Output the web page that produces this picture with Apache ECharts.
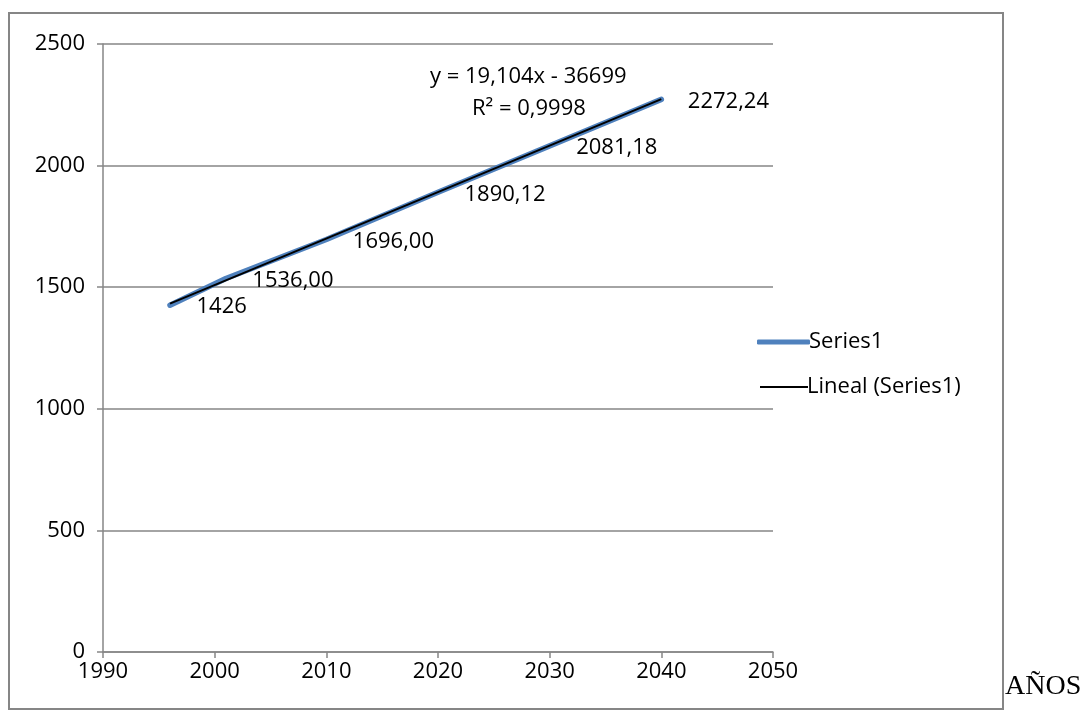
<!DOCTYPE html>
<html>
<head>
<meta charset="utf-8">
<script src="https://cdn.jsdelivr.net/npm/echarts@6/dist/echarts.min.js"></script>
<style>
  html, body { margin: 0; padding: 0; background: #fff; }
  #chart { width: 1087px; height: 713px; }
</style>
</head>
<body>
<div id="chart"></div>
<script>
// Years and population values
const years = [1996, 2001, 2010, 2020, 2030, 2040];
const values = [1426, 1536, 1696, 1890.12, 2081.18, 2272.24];
const valueLabels = ['1426', '1536,00', '1696,00', '1890,12', '2081,18', '2272,24'];

// Linear trend coefficients (y = slope * x + intercept)
const trendSlope = 19.104;
const trendIntercept = -36699;
const trendText = ['y = 19,104x - 36699', 'R² = 0,9998'];

// Axis ranges
const xTicks = [1990, 2000, 2010, 2020, 2030, 2040, 2050];
const yTicks = [0, 500, 1000, 1500, 2000, 2500];

const FONT = '"Open Sans", Lato, sans-serif';
const FS = 22;
const GRAY = '#868686';
const BLUE = '#4f81bd';

const seriesData = years.map((y, i) => [y, values[i]]);
const trendX = [years[0], years[years.length - 1]];
const trendData = trendX.map(x => [x, trendSlope * x + trendIntercept]);

const legendText = { color: '#000', fontFamily: FONT, fontSize: FS, padding: [0, 0, 0, -6] };

const chart = echarts.init(document.getElementById('chart'));
chart.setOption({
  animation: false,
  backgroundColor: '#fff',
  grid: { left: 103, top: 44, width: 670, height: 608, containLabel: false },
  xAxis: {
    type: 'value',
    min: xTicks[0],
    max: xTicks[xTicks.length - 1],
    interval: 10,
    axisLine: { show: true, lineStyle: { color: GRAY, width: 1.5 } },
    axisTick: { show: true, length: 6, lineStyle: { color: GRAY, width: 1.5 } },
    splitLine: { show: false },
    axisLabel: { color: '#000', fontFamily: FONT, fontSize: FS, margin: 9, formatter: v => String(v) }
  },
  yAxis: {
    type: 'value',
    min: yTicks[0],
    max: yTicks[yTicks.length - 1],
    interval: 500,
    axisLine: { show: true, lineStyle: { color: GRAY, width: 1.5 } },
    axisTick: { show: true, length: 6, lineStyle: { color: GRAY, width: 1.5 } },
    splitLine: { show: true, lineStyle: { color: GRAY, width: 1.5 } },
    axisLabel: { color: '#000', fontFamily: FONT, fontSize: FS, margin: 18, formatter: v => String(v) }
  },
  legend: [
    {
      orient: 'vertical',
      left: 752,
      top: 326,
      itemWidth: 53,
      itemHeight: 5,
      icon: 'roundRect',
      textStyle: legendText,
      data: [{ name: 'Series1', itemStyle: { color: BLUE, opacity: 1 } }]
    },
    {
      orient: 'vertical',
      left: 755,
      top: 371,
      itemWidth: 48,
      itemHeight: 2,
      icon: 'rect',
      textStyle: legendText,
      data: [{ name: 'Lineal (Series1)', itemStyle: { color: '#000', opacity: 1 } }]
    }
  ],
  series: [
    {
      name: 'Series1',
      type: 'line',
      data: seriesData,
      symbol: 'circle',
      symbolSize: 1,
      showSymbol: true,
      itemStyle: { color: 'rgba(79,129,189,0)', borderWidth: 0 },
      lineStyle: { color: BLUE, width: 5.5, cap: 'round', join: 'round' },
      label: {
        show: true,
        position: 'right',
        distance: 26,
        offset: [0, 2],
        color: '#000',
        fontFamily: FONT,
        fontSize: FS,
        formatter: p => valueLabels[p.dataIndex]
      },
      z: 2
    },
    {
      name: 'Lineal (Series1)',
      type: 'line',
      data: trendData,
      symbol: 'none',
      lineStyle: { color: '#000', width: 2 },
      itemStyle: { color: '#000' },
      z: 3
    }
  ],
  graphic: [
    {
      type: 'rect',
      shape: { x: 9, y: 13, width: 994, height: 696 },
      style: { fill: 'none', stroke: GRAY, lineWidth: 2 },
      z: -1
    },
    {
      type: 'text',
      left: 430, top: 66,
      style: { text: trendText[0], fill: '#000', font: FS + 'px ' + FONT }
    },
    {
      type: 'text',
      left: 472, top: 98,
      style: { text: trendText[1], fill: '#000', font: FS + 'px ' + FONT }
    },
    {
      type: 'text',
      left: 1005, top: 673,
      style: { text: 'AÑOS', fill: '#000', font: '28px "Liberation Serif", "DejaVu Serif", serif' }
    }
  ]
});
</script>
</body>
</html>
